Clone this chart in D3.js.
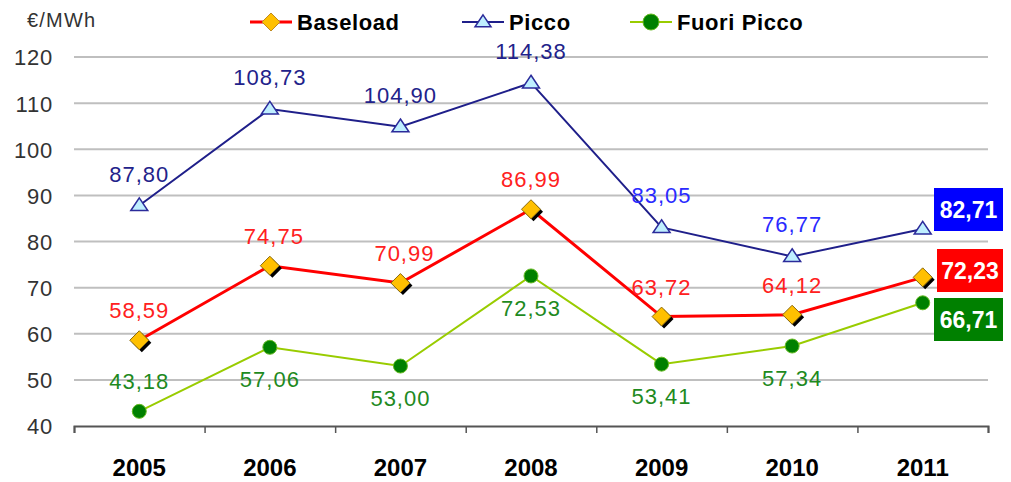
<!DOCTYPE html>
<html>
<head>
<meta charset="utf-8">
<script src="https://cdn.jsdelivr.net/npm/d3@7"></script>
<style>
  body { margin: 0; background: #fff; }
  text { font-family: Arial, "Liberation Sans", sans-serif; }
</style>
</head>
<body>
<div class="chart"></div>
<script>
var w = 1011;
var h = 482;

// data
var years = ["2005", "2006", "2007", "2008", "2009", "2010", "2011"];
var baseload = [58.59, 74.75, 70.99, 86.99, 63.72, 64.12, 72.23];
var picco = [87.80, 108.73, 104.90, 114.38, 83.05, 76.77, 82.71];
var fuoriPicco = [43.18, 57.06, 53.00, 72.53, 53.41, 57.34, 66.71];
var yTicks = [40, 50, 60, 70, 80, 90, 100, 110, 120];
var fuoriSide = ["above", "below", "below", "below", "below", "below", "below"];

var fmt = function (v) { return v.toFixed(2).replace(".", ","); };

var svg = d3.select(".chart").append("svg")
  .attr("width", w)
  .attr("height", h);

var xScale = d3.scaleBand().domain(years).range([74, 988]).padding(0);
var xEdge = d3.scaleLinear().domain([0, years.length]).range([74, 988]);
var yScale = d3.scaleLinear().domain([40, 120]).range([426, 57]);
var cx = function (i) { return xScale(years[i]) + xScale.bandwidth() / 2; };

// gridlines
svg.append("g").selectAll("line")
  .data(yTicks.slice(1))
  .enter().append("line")
  .attr("x1", 74).attr("x2", 988)
  .attr("y1", d => yScale(d)).attr("y2", d => yScale(d))
  .attr("stroke", "#bfbfbf")
  .attr("stroke-width", 2);

// y labels
var yAxis = d3.axisLeft(yScale).tickValues(yTicks).tickSize(0).tickPadding(0);
svg.append("g")
  .attr("transform", "translate(53,0)")
  .call(yAxis)
  .call(g => {
    g.select(".domain").remove();
    g.selectAll("text")
      .attr("fill", "#333")
      .attr("dy", "0.36em")
      .style("font-size", "22px")
      .style("letter-spacing", "0.8px")
      .style("font-family", "Arial, 'Liberation Sans', sans-serif");
  });

svg.append("text")
  .attr("x", 27).attr("y", 27)
  .attr("fill", "#333")
  .style("font-size", "20px")
  .style("letter-spacing", "1.2px")
  .text("€/MWh");

// x axis (ticks at category edges)
var xAxis = d3.axisBottom(xEdge).ticks(years.length).tickFormat("").tickSize(7).tickSizeOuter(7);
svg.append("g")
  .attr("transform", "translate(0,426)")
  .call(xAxis)
  .call(g => {
    g.select(".domain").attr("stroke", "#555").attr("stroke-width", 2);
    g.selectAll("line").attr("stroke", "#555").attr("stroke-width", 1.5);
  });

svg.append("g").selectAll("text")
  .data(years)
  .enter().append("text")
  .attr("x", d => xScale(d) + xScale.bandwidth() / 2)
  .attr("y", 476)
  .attr("text-anchor", "middle")
  .attr("fill", "#000")
  .style("font-size", "24px")
  .style("font-weight", "bold")
  .text(d => d);

// lines
function linePath(values) {
  return d3.line()
    .x((d, i) => cx(i))
    .y(d => yScale(d))(values);
}

svg.append("path").attr("d", linePath(fuoriPicco))
  .attr("fill", "none").attr("stroke", "#99cc00").attr("stroke-width", 2);
svg.append("path").attr("d", linePath(picco))
  .attr("fill", "none").attr("stroke", "#1f1f8a").attr("stroke-width", 2);
svg.append("path").attr("d", linePath(baseload))
  .attr("fill", "none").attr("stroke", "#ff0000").attr("stroke-width", 3);

// markers
function diamond(g, x, y, r) {
  var pts = [[x, y - r], [x + r, y], [x, y + r], [x - r, y]];
  g.append("path")
    .attr("d", "M" + pts.map(p => [p[0] + 2.5, p[1] + 2.5].join(",")).join("L") + "Z")
    .attr("fill", "#000");
  g.append("path")
    .attr("d", "M" + pts.map(p => p.join(",")).join("L") + "Z")
    .attr("fill", "#ffc000")
    .attr("stroke", "#8a6a10")
    .attr("stroke-width", 1);
}
function triangle(g, x, y, s) {
  g.append("path")
    .attr("d", `M${x},${y - s * 0.9}L${x + s},${y + s * 0.6}L${x - s},${y + s * 0.6}Z`)
    .attr("fill", "#bfefff")
    .attr("stroke", "#2b2b9a")
    .attr("stroke-width", 1.5);
}
function dot(g, x, y, r) {
  g.append("circle")
    .attr("cx", x).attr("cy", y).attr("r", r)
    .attr("fill", "#008000")
    .attr("stroke", "#66bb22")
    .attr("stroke-width", 1);
}

var mk = svg.append("g");
fuoriPicco.forEach((v, i) => dot(mk, cx(i), yScale(v), 7));
picco.forEach((v, i) => triangle(mk, cx(i), yScale(v), 8.5));
baseload.forEach((v, i) => diamond(mk, cx(i), yScale(v), 9.5));

// data labels (last year shown in boxes)
var last = years.length - 1;
var lbl = svg.append("g")
  .style("font-size", "22px")
  .style("letter-spacing", "1px")
  .attr("text-anchor", "middle");

picco.slice(0, last).forEach((v, i) => {
  lbl.append("text")
    .attr("x", cx(i)).attr("y", yScale(v) - 24)
    .attr("fill", i < 4 ? "#22228a" : "#2a2aff")
    .text(fmt(v));
});
baseload.slice(0, last).forEach((v, i) => {
  lbl.append("text")
    .attr("x", cx(i) + (i == 1 || i == 2 ? 4 : 0)).attr("y", yScale(v) - 22)
    .attr("fill", "#ff2020")
    .text(fmt(v));
});
fuoriPicco.slice(0, last).forEach((v, i) => {
  lbl.append("text")
    .attr("x", cx(i)).attr("y", fuoriSide[i] == "above" ? yScale(v) - 22 : yScale(v) + 40)
    .attr("fill", "#1e8a1e")
    .text(fmt(v));
});

// end boxes
var boxes = [
  { v: picco[last], fill: "#0000ff", y: 188, x: 934 },
  { v: baseload[last], fill: "#ff0000", y: 249, x: 937 },
  { v: fuoriPicco[last], fill: "#008000", y: 298, x: 934 }
];
var bx = svg.append("g");
boxes.forEach(b => {
  var bw = 1003 - b.x, bh = 43;
  bx.append("rect")
    .attr("x", b.x).attr("y", b.y).attr("width", bw).attr("height", bh)
    .attr("fill", b.fill);
  bx.append("text")
    .attr("x", b.x + bw / 2).attr("y", b.y + bh / 2 + 8.5)
    .attr("text-anchor", "middle")
    .attr("fill", "#fff")
    .style("font-size", "23px")
    .style("font-weight", "bold")
    .text(fmt(b.v));
});

// legend
var legendItems = [
  { key: "Baseload", x: 250, color: "#ff0000", width: 3, mark: diamond },
  { key: "Picco", x: 462, color: "#1f1f8a", width: 2, mark: triangle },
  { key: "Fuori Picco", x: 630, color: "#99cc00", width: 2, mark: dot }
];
var lg = svg.append("g");
legendItems.forEach(d => {
  lg.append("line")
    .attr("x1", d.x).attr("x2", d.x + 42)
    .attr("y1", 22).attr("y2", 22)
    .attr("stroke", d.color).attr("stroke-width", d.width);
  if (d.mark === diamond) {
    // legend diamond without shadow
    lg.append("path")
      .attr("d", `M${d.x + 21},13L${d.x + 30},22L${d.x + 21},31L${d.x + 12},22Z`)
      .attr("fill", "#ffc000").attr("stroke", "#c08a20");
  } else {
    d.mark(lg, d.x + 21, 22, 8);
  }
  lg.append("text")
    .attr("x", d.x + 47).attr("y", 30)
    .attr("fill", "#000")
    .style("font-size", "22px")
    .style("letter-spacing", "0.6px")
    .style("font-weight", "bold")
    .text(d.key);
});
</script>
</body>
</html>
